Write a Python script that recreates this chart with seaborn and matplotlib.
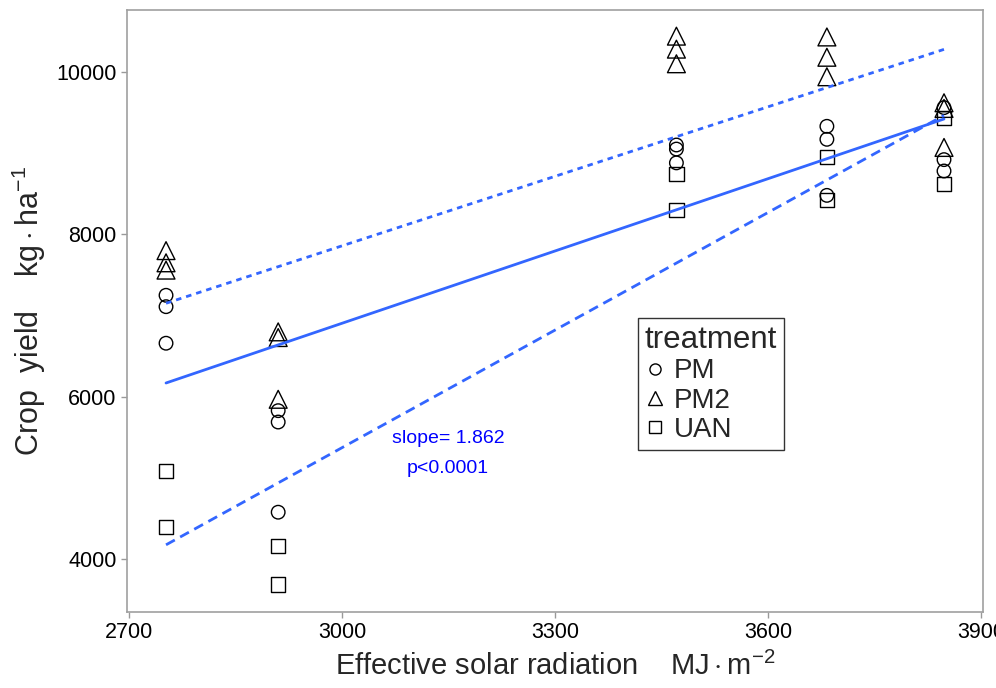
import matplotlib
matplotlib.use("Agg")
import matplotlib.pyplot as plt
from matplotlib.lines import Line2D
import seaborn as sns
import pandas as pd

# Effective solar radiation (MJ m-2) at the five site-years
pm_rad = [2752, 2752, 2752, 2910, 2910, 2910, 3471, 3471, 3471, 3683, 3683, 3683, 3848, 3848, 3848]
pm_yield = [7250, 7110, 6660, 5830, 5690, 4580, 9100, 9050, 8880, 9330, 9170, 8480, 9560, 8920, 8780]

pm2_rad = [2752, 2752, 2752, 2910, 2910, 2910, 3471, 3471, 3471, 3683, 3683, 3683, 3848, 3848, 3848]
pm2_yield = [7800, 7650, 7560, 6800, 6730, 5970, 10440, 10280, 10100, 10430, 10180, 9940, 9620, 9550, 9070]

uan_rad = [2752, 2752, 2910, 2910, 3471, 3471, 3683, 3683, 3848, 3848]
uan_yield = [5090, 4400, 4160, 3690, 8740, 8300, 8950, 8420, 9430, 8620]

treatments = ["PM", "PM2", "UAN"]
x_ticks = [2700, 3000, 3300, 3600, 3900]
y_ticks = [4000, 6000, 8000, 10000]

df = pd.concat([
    pd.DataFrame({"radiation": pm_rad, "yield": pm_yield, "treatment": "PM"}),
    pd.DataFrame({"radiation": pm2_rad, "yield": pm2_yield, "treatment": "PM2"}),
    pd.DataFrame({"radiation": uan_rad, "yield": uan_yield, "treatment": "UAN"}),
], ignore_index=True)

sns.set_style("white")
plt.rcParams["font.family"] = ["Liberation Sans", "DejaVu Sans"]
plt.rcParams["mathtext.fontset"] = "custom"
plt.rcParams["mathtext.rm"] = "Liberation Sans"
plt.rcParams["mathtext.it"] = "Liberation Sans:italic"

fig = plt.figure(figsize=(9.96, 6.88), dpi=100)
ax = fig.add_axes([0.1275, 0.1105, 0.8595, 0.875])

markers = {"PM": "o", "PM2": "^", "UAN": "s"}
sizes = {"PM": 95, "PM2": 165, "UAN": 105}
styles = {"PM": "-", "PM2": (0, (2, 1.8)), "UAN": (0, (3.6, 2.2))}

for t in treatments:
    sub = df[df["treatment"] == t]
    sns.scatterplot(data=sub, x="radiation", y="yield", marker=markers[t], s=sizes[t],
                    color="black", edgecolor="black", linewidth=1.0, legend=False, ax=ax)
for coll in ax.collections:
    coll.set_facecolor("none")
    coll.set_edgecolor("black")

for t in treatments:
    sub = df[df["treatment"] == t]
    sns.regplot(data=sub, x="radiation", y="yield", scatter=False, ci=None, ax=ax,
                color="#3366FF", line_kws={"lw": 2.0, "ls": styles[t]})

ax.text(3149, 5485, "slope= 1.862", color="blue", fontsize=14, ha="center", va="center")
ax.text(3149, 5117, "p<0.0001", color="blue", fontsize=14, ha="center", va="center")

ax.set_xlim(2697, 3903)
ax.set_ylim(3352, 10762)
ax.set_xticks(x_ticks)
ax.set_yticks(y_ticks)
ax.tick_params(axis="both", labelsize=15.5, colors="#999999", labelcolor="black",
               length=4, width=1, direction="out", bottom=True, left=True)
for sp in ax.spines.values():
    sp.set_color("#a0a0a0")
    sp.set_linewidth(1.2)

ax.set_xlabel(r"Effective solar radiation    $\mathrm{MJ \cdot m^{-2}}$", fontsize=21, labelpad=6)
ax.set_ylabel(r"Crop  yield    $\mathrm{kg \cdot ha^{-1}}$", fontsize=22, labelpad=6)

handles = [
    Line2D([], [], marker="o", ls="none", mfc="none", mec="black", ms=8, mew=1),
    Line2D([], [], marker="^", ls="none", mfc="none", mec="black", ms=10, mew=1),
    Line2D([], [], marker="s", ls="none", mfc="none", mec="black", ms=8, mew=1),
]
leg = ax.legend(handles, treatments, title="treatment", loc="upper left",
                bbox_to_anchor=(0.6406, 0.5378), bbox_transform=fig.transFigure,
                fontsize=20, title_fontsize=22.5, frameon=True, fancybox=False,
                edgecolor="black", handlelength=0.7, handletextpad=0.35,
                labelspacing=0.12, borderpad=0.25, borderaxespad=0, alignment="left")
leg.get_frame().set_linewidth(1.0)

fig.savefig("out.png", dpi=100)
